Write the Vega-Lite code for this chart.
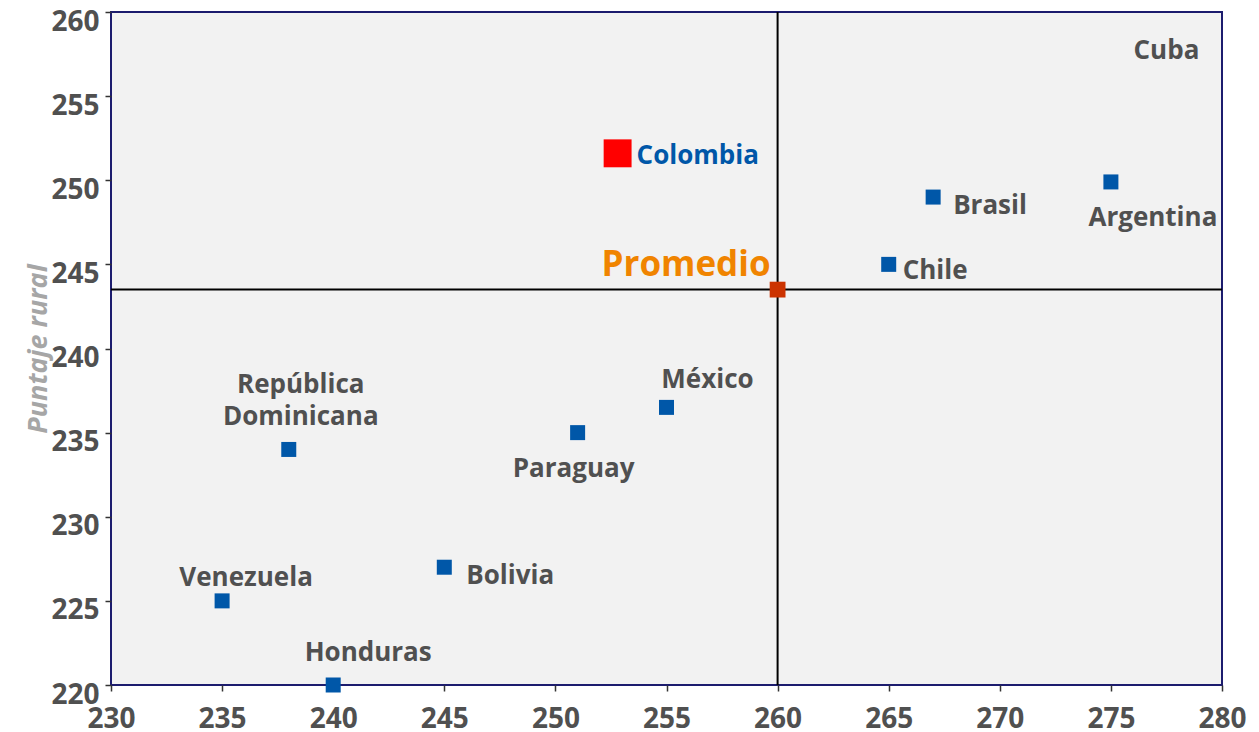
{
  "$schema": "https://vega.github.io/schema/vega-lite/v6.json",
  "width": 1111,
  "height": 673,
  "autosize": {"type": "none"},
  "padding": {"left": 111, "top": 12, "right": 37, "bottom": 47},
  "background": "white",
  "config": {
    "view": {"fill": "#f2f2f2", "stroke": "#1c1c6e", "strokeWidth": 2},
    "font": "Open Sans",
    "text": {"font": "Open Sans", "fontWeight": "bold", "fontSize": 26, "color": "#505050", "baseline": "middle"}
  },
  "data": {
    "values": [
      {"pais": "Colombia", "x": 252.8, "y": 251.6, "tipo": "Colombia"},
      {"pais": "Promedio", "x": 260, "y": 243.5, "tipo": "Promedio"},
      {"pais": "Brasil", "x": 267, "y": 249, "tipo": "País"},
      {"pais": "Argentina", "x": 275, "y": 249.9, "tipo": "País"},
      {"pais": "Chile", "x": 265, "y": 245, "tipo": "País"},
      {"pais": "México", "x": 255, "y": 236.5, "tipo": "País"},
      {"pais": "Paraguay", "x": 251, "y": 235, "tipo": "País"},
      {"pais": "República Dominicana", "x": 238, "y": 234, "tipo": "País"},
      {"pais": "Bolivia", "x": 245, "y": 227, "tipo": "País"},
      {"pais": "Venezuela", "x": 235, "y": 225, "tipo": "País"},
      {"pais": "Honduras", "x": 240, "y": 220, "tipo": "País"},
      {"pais": "Cuba", "x": 277.5, "y": 257.8, "tipo": "Sin punto"}
    ]
  },
  "encoding": {
    "x": {
      "field": "x", "type": "quantitative",
      "scale": {"domain": [230, 280], "nice": false, "zero": false},
      "axis": {
        "title": null, "grid": false, "domain": false, "values": [230,235,240,245,250,255,260,265,270,275,280],
        "labelOverlap": false, "labelBound": false,
        "tickColor": "#333333", "tickSize": 6, "tickWidth": 1.5,
        "labelFont": "Open Sans", "labelFontWeight": "bold", "labelFontSize": 28, "labelColor": "#505050", "labelPadding": 14, "labelFlush": false
      }
    },
    "y": {
      "field": "y", "type": "quantitative",
      "scale": {"domain": [220, 260], "nice": false, "zero": false},
      "axis": {
        "title": "Puntaje rural", "grid": false, "domain": false, "values": [220,225,230,235,240,245,250,255,260],
        "labelOverlap": false, "labelBound": false,
        "tickColor": "#333333", "tickSize": 6, "tickWidth": 1.5,
        "labelFont": "Open Sans", "labelFontWeight": "bold", "labelFontSize": 28, "labelColor": "#505050", "labelPadding": 6, "labelOffset": 10, "labelFlush": false,
        "titleFont": "Open Sans", "titleFontWeight": "bold", "titleFontStyle": "italic", "titleFontSize": 27, "titleColor": "#a6a6a6", "titlePadding": -2
      }
    }
  },
  "layer": [
    {
      "transform": [{"filter": "datum.tipo === 'Promedio'"}],
      "mark": {"type": "rule", "color": "black", "strokeWidth": 2},
      "encoding": {"y": null}
    },
    {
      "transform": [{"filter": "datum.tipo === 'Promedio'"}],
      "mark": {"type": "rule", "color": "black", "strokeWidth": 2},
      "encoding": {"x": null}
    },
    {
      "transform": [{"filter": "datum.tipo !== 'Sin punto'"}],
      "mark": {"type": "point", "shape": "square", "filled": true, "opacity": 1, "clip": false},
      "encoding": {
        "color": {"field": "tipo", "type": "nominal", "scale": {"domain": ["País", "Colombia", "Promedio"], "range": ["#0057a8", "#ff0000", "#cc3300"]}, "legend": null},
        "size": {"field": "tipo", "type": "nominal", "scale": {"type": "ordinal", "domain": ["País", "Colombia", "Promedio"], "range": [225, 780, 250]}, "legend": null}
      }
    },
    {"transform": [{"filter": "datum.pais === 'Colombia'"}], "mark": {"type": "text", "align": "left", "dx": 19, "dy": 3, "color": "#0057a8"}, "encoding": {"text": {"field": "pais"}}},
    {"transform": [{"filter": "datum.pais === 'Brasil'"}], "mark": {"type": "text", "align": "left", "dx": 20, "dy": 9}, "encoding": {"text": {"field": "pais"}}},
    {"transform": [{"filter": "datum.pais === 'Chile'"}], "mark": {"type": "text", "align": "left", "dx": 14, "dy": 7}, "encoding": {"text": {"field": "pais"}}},
    {"transform": [{"filter": "datum.pais === 'Bolivia'"}], "mark": {"type": "text", "align": "left", "dx": 22, "dy": 9}, "encoding": {"text": {"field": "pais"}}},
    {"transform": [{"filter": "datum.pais === 'Argentina'"}], "mark": {"type": "text", "align": "center", "dx": 42, "dy": 36}, "encoding": {"text": {"field": "pais"}}},
    {"transform": [{"filter": "datum.pais === 'Paraguay'"}], "mark": {"type": "text", "align": "center", "dx": -4, "dy": 36}, "encoding": {"text": {"field": "pais"}}},
    {"transform": [{"filter": "datum.pais === 'México'"}], "mark": {"type": "text", "align": "center", "dx": 41, "dy": -27}, "encoding": {"text": {"field": "pais"}}},
    {"transform": [{"filter": "datum.pais === 'Honduras'"}], "mark": {"type": "text", "align": "center", "dx": 35, "dy": -32}, "encoding": {"text": {"field": "pais"}}},
    {"transform": [{"filter": "datum.pais === 'Venezuela'"}], "mark": {"type": "text", "align": "center", "dx": 24, "dy": -23}, "encoding": {"text": {"field": "pais"}}},
    {"transform": [{"filter": "datum.pais === 'República Dominicana'"}], "mark": {"type": "text", "align": "center", "dx": 12, "dy": -64, "lineBreak": " ", "lineHeight": 32}, "encoding": {"text": {"field": "pais"}}},
    {"transform": [{"filter": "datum.pais === 'Promedio'"}], "mark": {"type": "text", "align": "right", "dx": -7, "dy": -25, "fontSize": 35, "color": "#f08400"}, "encoding": {"text": {"field": "pais"}}},
    {"transform": [{"filter": "datum.pais === 'Cuba'"}], "mark": {"type": "text", "align": "center", "dy": 2}, "encoding": {"text": {"field": "pais"}}}
  ]
}
